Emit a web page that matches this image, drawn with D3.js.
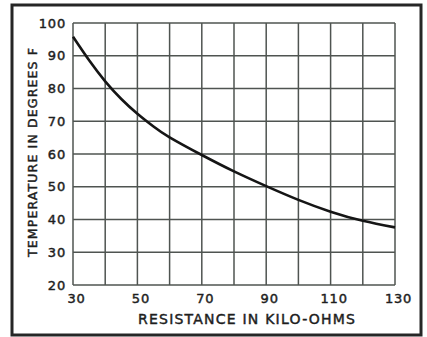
<!DOCTYPE html>
<html>
<head>
<meta charset="utf-8">
<script src="https://cdn.jsdelivr.net/npm/d3@7"></script>
<style>
  html, body { margin: 0; padding: 0; background: #fff; }
  svg { display: block; }
  text { font-family: "DejaVu Sans", sans-serif; fill: #1e1e1e; stroke: #1e1e1e; stroke-width: 0.45px; }
</style>
</head>
<body>
<script>
// Thermistor curve: temperature (°F) versus resistance (kilo-ohms)
const resistance = [30, 35, 40, 45, 50, 55, 60, 70, 80, 90, 100, 110, 120, 130];
const temperature = [95.8, 88.6, 82.2, 76.8, 72.3, 68.4, 65.1, 59.7, 54.7, 50.2, 46.0, 42.4, 39.6, 37.6];

const xGrid = [30, 40, 50, 60, 70, 80, 90, 100, 110, 120, 130];
const yGrid = [20, 30, 40, 50, 60, 70, 80, 90, 100];
const xTickLabels = [30, 50, 70, 90, 110, 130];
const yTickLabels = [20, 30, 40, 50, 60, 70, 80, 90, 100];

const xTitle = "RESISTANCE IN KILO-OHMS";
const yTitle = "TEMPERATURE IN DEGREES F";

const W = 427, H = 337;
const plot = { left: 73, right: 395, top: 23, bottom: 285 };

const svg = d3.select("body").append("svg")
  .attr("width", W).attr("height", H);

// outer frame
svg.append("rect")
  .attr("x", 12).attr("y", 5)
  .attr("width", 409).attr("height", 330)
  .attr("fill", "#fff")
  .attr("stroke", "#262626")
  .attr("stroke-width", 3);

const x = d3.scaleLinear().domain([30, 130]).range([plot.left, plot.right]);
const y = d3.scaleLinear().domain([20, 100]).range([plot.bottom, plot.top]);

// grid
const grid = svg.append("g").attr("stroke", "#4f5451").attr("stroke-width", 1.5);
grid.selectAll("line.v").data(xGrid).join("line")
  .attr("class", "v")
  .attr("x1", d => x(d)).attr("x2", d => x(d))
  .attr("y1", plot.top).attr("y2", plot.bottom);
grid.selectAll("line.h").data(yGrid).join("line")
  .attr("class", "h")
  .attr("y1", d => y(d)).attr("y2", d => y(d))
  .attr("x1", plot.left).attr("x2", plot.right);

// tick labels
svg.append("g").selectAll("text").data(yTickLabels).join("text")
  .attr("x", plot.left - 7)
  .attr("y", d => y(d))
  .attr("dy", "0.36em")
  .attr("text-anchor", "end")
  .attr("font-size", 13)
  .attr("letter-spacing", 0.8)
  .text(d => d);

svg.append("g").selectAll("text").data(xTickLabels).join("text")
  .attr("x", d => x(d) + 3.5)
  .attr("y", 303)
  .attr("text-anchor", "middle")
  .attr("font-size", 13)
  .attr("letter-spacing", 0.8)
  .text(d => d);

// axis titles
svg.append("text")
  .attr("x", 138).attr("y", 324)
  .attr("font-size", 14)
  .attr("textLength", 217)
  .attr("lengthAdjust", "spacing")
  .text(xTitle);

svg.append("text")
  .attr("transform", "translate(37,257) rotate(-90)")
  .attr("font-size", 12.5)
  .attr("textLength", 209)
  .attr("lengthAdjust", "spacing")
  .text(yTitle);

// curve
const pts = resistance.map((r, i) => [r, temperature[i]]);
svg.append("path")
  .datum(pts)
  .attr("fill", "none")
  .attr("stroke", "#151515")
  .attr("stroke-width", 2.6)
  .attr("d", d3.line().x(d => x(d[0])).y(d => y(d[1])).curve(d3.curveNatural));
</script>
</body>
</html>
